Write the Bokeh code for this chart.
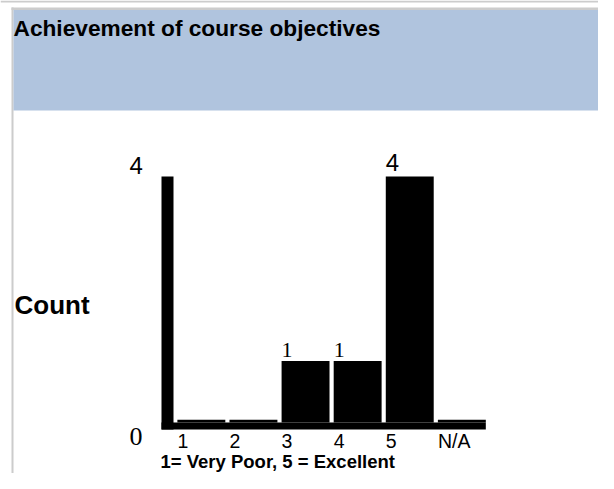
from bokeh.plotting import figure
from bokeh.models import Range1d, ColumnDataSource, Label
from bokeh.core.properties import value
from bokeh.embed import file_html
from bokeh.resources import INLINE

# ---- data ----
title_text = "Achievement of course objectives"
y_label = "Count"
x_note = "1= Very Poor, 5 = Excellent"
categories = ["1", "2", "3", "4", "5", "N/A"]
counts = [0, 0, 1, 1, 4, 0]
y_tick_values = [0, 4]
y_tick_labels = ["0", "4"]

# ---- geometry (pixels within the figure) ----
W, H = 598, 473
X0_PX, PITCH = 200.85, 52.1   # centre of first bar, bar spacing
Y0_PX, UNIT = 422.0, 61.5     # zero line, pixels per count


def dx(px):
    return (px - X0_PX) / PITCH


def dy(py):
    return (Y0_PX - py) / UNIT


p = figure(width=W, height=H, x_range=Range1d(dx(0), dx(W)),
           y_range=Range1d(dy(H), dy(0)), output_backend="svg",
           toolbar_location=None, min_border=0,
           x_axis_location=None, y_axis_location=None)
p.grid.visible = False
p.outline_line_color = None
p.background_fill_color = "white"
p.border_fill_color = "white"

GRAY = "#cccccc"
BLUE = "#B0C4DE"

# frame and header band
p.quad(left=dx(0), right=dx(W), top=dy(0), bottom=dy(2), color=GRAY, line_width=0)
p.quad(left=dx(11), right=dx(W), top=dy(7), bottom=dy(9.5), color=GRAY, line_width=0)
p.quad(left=dx(11), right=dx(13), top=dy(7), bottom=dy(H), color=GRAY, line_width=0)
p.quad(left=dx(13), right=dx(W), top=dy(9.5), bottom=dy(110), color=BLUE, line_width=0)

p.add_layout(Label(x=dx(13), y=dy(27), text=title_text, text_font="Liberation Sans",
                   text_font_style="bold", text_font_size="22.7px", text_color="black",
                   text_baseline="alphabetic"))
p.add_layout(Label(x=dx(14), y=dy(304), text=y_label, text_font="Liberation Sans",
                   text_font_style="bold", text_font_size="26px", text_color="black",
                   text_baseline="alphabetic"))
p.add_layout(Label(x=dx(160), y=dy(460.5), text=x_note, text_font="Liberation Sans",
                   text_font_style="bold", text_font_size="18.5px", text_color="black",
                   text_baseline="alphabetic"))

# bars
idx = list(range(len(categories)))
bar_w = 0.92
min_h = 2.7 / UNIT
tops = [max(c, min_h) for c in counts]
p.vbar(x=idx, top=tops, bottom=0, width=bar_w, color="black", line_width=0)

# axis bar (left) and base strip
axis_x = dx(167)
axis_w = 12 / PITCH
base = -7 / UNIT
p.quad(left=axis_x - axis_w / 2, right=axis_x + axis_w / 2, bottom=base,
       top=max(y_tick_values), color="black", line_width=0)
p.quad(left=axis_x - axis_w / 2, right=idx[-1] + bar_w / 2, bottom=base, top=0,
       color="black", line_width=0)

# value labels above non-zero bars
vl = [(i - bar_w / 2, c, str(c)) for i, c in zip(idx, counts) if c > 0]
fonts = ["Liberation Sans" if s == "4" else "Liberation Serif" for _, _, s in vl]
sizes = ["24px" if s == "4" else "22px" for _, _, s in vl]
offs = [-14 if s == "4" else -11 for _, _, s in vl]
src = ColumnDataSource(dict(x=[v[0] for v in vl], y=[v[1] for v in vl],
                            t=[v[2] for v in vl], f=fonts, s=sizes, o=offs))
p.text(x="x", y="y", text="t", source=src, text_font="f", text_font_size="s",
       text_baseline="alphabetic", text_align="left", y_offset="o", text_color="black")

# y tick labels
yfonts = ["Liberation Serif" if t == "0" else "Liberation Sans" for t in y_tick_labels]
ysizes = ["26px" if t == "0" else "24px" for t in y_tick_labels]
yoffs = [14 if t == "0" else -11 for t in y_tick_labels]
ysrc = ColumnDataSource(dict(x=[dx(129)] * len(y_tick_values), y=y_tick_values,
                             t=y_tick_labels, f=yfonts, s=ysizes, o=yoffs))
p.text(x="x", y="y", text="t", source=ysrc, text_font="f", text_font_size="s",
       text_baseline="alphabetic", text_align="left", text_color="black",
       y_offset="o")

# x tick labels
xsrc = ColumnDataSource(dict(x=[i - bar_w / 2 for i in idx], y=[0] * len(idx), t=categories))
p.text(x="x", y="y", text="t", source=xsrc, text_font=value("Liberation Sans"),
       text_font_size="19.5px", text_baseline="alphabetic", text_align="left",
       y_offset=18, text_color="black")

open("out.html", "w").write(file_html(p, INLINE))
